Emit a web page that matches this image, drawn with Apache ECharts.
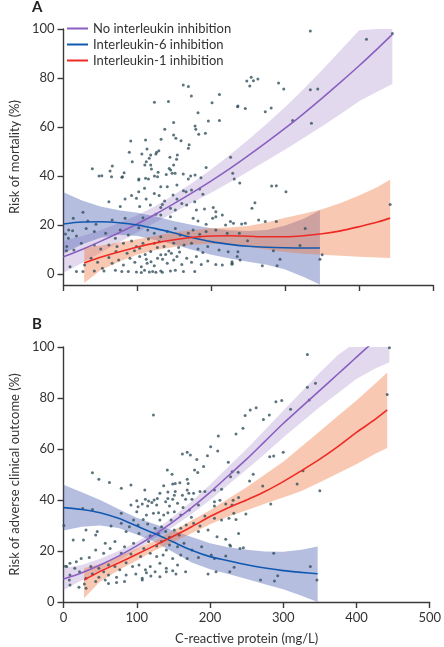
<!DOCTYPE html>
<html><head><meta charset="utf-8">
<script src="https://cdn.jsdelivr.net/npm/echarts@6/dist/echarts.min.js"></script>
<style>html,body{margin:0;padding:0;background:#fff}#c{width:444px;height:647px}</style>
</head><body><div id="c"></div>
<script>
// ---------- tick labels ----------
const xTicks = [0, 100, 200, 300, 400, 500];
const yTicks = [0, 20, 40, 60, 80, 100];
const seriesNames = ['No interleukin inhibition', 'Interleukin-6 inhibition', 'Interleukin-1 inhibition'];

// ---------- Panel A: mortality ----------
const A_none_x   = [0,25,50,75,100,125,150,175,200,225,250,275,300,325,350,375,400,425,445];
const A_none_fit = [7,10,13.3,16.8,20.5,24.5,28.8,33.3,38,43,48.3,53.8,59.5,65.5,71.8,78.3,85,92,97.8];
const A_none_lo  = [0.5,4.5,8.7,12.8,17,21.1,25.2,29.3,33.2,37.4,41.8,46.3,50.8,55.5,60.3,65.3,70.5,74.5,77.5];
const A_none_hi  = [13.5,15.5,17.9,20.8,24,27.9,32.4,37.3,42.8,48.6,54.8,61.3,68.2,75.5,83.3,91.3,99.5,100,100];

const A_il6_x   = [0,25,50,75,100,125,150,175,200,225,250,275,300,325,347];
const A_il6_fit = [20.4,21.2,21.3,20.9,20,18.5,16.7,14.8,13.2,12.1,11.3,10.9,10.7,10.6,10.6];
const A_il6_lo  = [8.5,12,14.8,16,15.5,13.8,12,9.8,7.8,6.3,5,3.8,1.8,-1.2,-4.3];
const A_il6_hi  = [33.4,30,27.5,26,25,23.5,21.5,20,18.7,17.8,17.5,18,19.8,22.5,26];

const A_il1_x   = [28,50,75,100,125,150,175,200,225,250,275,300,325,350,375,400,425,442];
const A_il1_fit = [4.5,6.8,9,11,12.7,14,15,15.5,15.6,15.4,15.2,15.2,15.6,16.4,17.6,19.3,21.2,22.8];
const A_il1_lo  = [-3.7,1.5,5,7.9,9.8,11,12,12.3,12,11.2,10,9,8.3,7.8,7.4,7,6.7,6.5];
const A_il1_hi  = [11,11.5,12.8,14.2,15.6,17,18,18.7,19,19.6,21,23,24.6,26.4,29,32,35.5,38.6];

const A_points = [
[162,77.1],[169,76.5],[173,72.7],[211,73.3],[201,69.9],[123,70.1],[142,70.4],[236,68.6],[182,65.8],[149,61.8],
[196,62.4],[211,62.6],[178,60.4],[137,59.1],[179,59.1],[183,57],[192,57.4],[149,56.7],[152,55.4],[132,55],
[159,54.4],[91,54.3],[111,54.7],[170,52.7],[169,51.3],[113,51],[129,50.3],[126,49.7],[89,49.7],[106,49],
[118,48.6],[125,49],[116,47.2],[144,47.6],[154,48.6],[153,46.8],[93,45.8],[112,45.8],[110,44.5],[118,44.5],
[149,44.5],[66,44.1],[39,43],[63,42],[119,42.9],[143,43.1],[145,42.4],[128,41.5],[82,41.3],[48,40],
[65,39.7],[79,39.5],[111,39.1],[147,41.1],[151,41.1],[162,40.8],[172,40],[178,40.4],[193,43.5],[123,40],
[139,40.6],[102,38.8],[186,39.3],[226,47.6],[229,41.1],
[334,99.2],[410,95.8],[445,98.2],[248,78.8],[254,80.3],[257,78.9],[263,79.6],[252,76.7],[291,78],[298,75.5],
[235.5,68.3],[246,67.5],[273,66.2],[281,67.8],[334,75.2],[344,75.5],[310,62.6],[335.5,61.5],
[231,38.8],[238.5,37.1],[281.6,35.9],[288,36],[301,33.6],[259,29.1],[255,26.8],[264,22],[273,21.4],[288,21.4],
[230,20.7],[241,20.4],[246,20.7],[327,18.6],[238,16.6],[249,13.6],[320,11.6],[284,9.5],[236,9.1],[235,7.1],
[239,5.7],[228,5],[228,4],[293,6],[269,3.4],[289,3.4],[347,6],[350,7.8],[442,28.4],
[51.8,40.1],[79.8,39.7],[101.8,38.4],[114.9,38.8],[127.2,39.7],[168.9,38.8],[131.6,35.6],[109.6,35],[92.1,32],
[101.8,33.6],[122.8,32.9],[129.4,32],[140.4,35.6],[153.5,36.3],[162.3,34],[165.8,33.6],[173.2,34.3],[184.2,34.7],
[83.3,30.6],[98.7,30.9],[111.8,30.6],[117.5,28.2],[133.8,28.4],[136.8,29.8],[148.2,32.2],[153.5,30.6],[160.1,28.8],
[177.6,29.5],[188.6,32.5],[61.4,29.5],[76.8,27.5],[103.1,27.5],[131.6,27.1],[144.7,26.8],[151.3,26.1],[166.7,28.2],
[179.8,26.1],[190.8,26.5],[202.6,27.1],[206.1,25.4],[214.9,24.1],[206.1,23.4],[201.8,22.7],[225.9,21.4],
[26.3,25.2],[13.2,22.7],[32.9,21.6],[43.9,20.3],[65.8,22],[83.3,22.7],[107.5,23],[125,24.4],[131.6,24.1],
[144.7,23.4],[175.4,22.7],[182,21.6],[193,20.3],[219.3,20],[12.3,17.6],[17.5,15.5],[6.6,14.6],[30.7,18.6],
[41.7,17.3],[57,16.6],[70.2,14.6],[76.8,18],[87.7,15.9],[101.8,18.9],[114,18],[122.8,16.6],[131.6,15.2],
[140.4,17.3],[151.3,18.6],[157.9,15.9],[168.9,16.6],[175.4,18],[184.2,16.2],[193,17.3],[206.1,18],[221.5,16.6],
[4.4,11.2],[14,9.8],[24.1,12.5],[41.7,11.8],[50.4,10.2],[61.4,11.8],[72.4,11.2],[81.1,12.5],[92.1,13.5],
[98.7,11.2],[107.5,12.5],[114.9,14.3],[122.8,12.5],[129.4,13.2],[136,11.2],[142.5,9.4],[149.1,12.5],[155.7,10.8],
[163.2,11.8],[173.2,12.5],[182,10.2],[188.6,8.8],[195.2,11.2],[210.5,9.8],[222.8,9.1],
[8.8,3],[17.5,1],[28.5,3.7],[37.3,6.4],[46.1,4.8],[52.6,2.3],[61.4,6.7],[65.8,4.4],[74.6,5.7],[81.1,3.7],
[89.9,6.4],[96.5,4.8],[103.1,7.1],[105.3,3],[110.5,8],[113.2,4.4],[118.4,5],[122.8,3.4],[127.2,6.4],[131.6,7.8],
[138.2,8],[140.4,4.4],[149.1,5.7],[153.5,7.1],[160.1,3.9],[166.7,6.4],[173.2,4.8],[179.8,7.1],[186.4,3.9],
[195.2,5.3],[206.1,3.9],[214.9,3.7],[228.1,4.4],[54.8,1.2],[70.2,1.5],[87.7,1],[98.7,0.8],[109.6,1.5],[116.2,0.8],
[120.6,1],[131.6,1.2],[133.8,0.7],[144.7,1.2],[151.3,1.5],[162.3,1],[177.6,1],[105.3,0.6],[125,0.7],[78.9,1],
[26.3,1],[41.7,1.2],[2.6,16.3],[7,18],[4,9.5],
[96,9.5],[103,10.5],[118,9.2],[127,10.8],[134,6],[146,8.5],[157,9],[112,6],[86,8.5],[71,9.2]
];

// ---------- Panel B: adverse clinical outcome ----------
const B_none_x   = [0,25,50,75,100,125,150,175,200,225,250,275,300,325,350,375,390,400,425,445];
const B_none_fit = [9,11.5,14.5,18,22,26.5,31.5,37,43,49.5,56,63,70,76.5,83,89.5,93.4,96,102.5,107.7];
const B_none_lo  = [4.7,8.5,12,16,20.5,25,29.5,34.5,40,46,52,58,64.5,70.5,76.5,82,85.3,87.5,91.5,94];
const B_none_hi  = [13.3,14.5,17,20,23.5,28,33.5,39.5,46,53,60,67.5,75,82.5,90,97,100,100,100,100];

const B_il6_x   = [0,25,50,75,100,125,150,175,200,225,250,275,300,325,347];
const B_il6_fit = [37,36.3,35,32.8,29.8,26.8,23.5,20.3,17.8,16.2,14.6,13.3,12.3,11.6,11.1];
const B_il6_lo  = [28,29.5,30,29,26.5,23.5,19.5,15.5,12.8,11,9,7,5,2.5,0];
const B_il6_hi  = [46,43,40,36.5,33,30.5,28,25.5,23,21.5,20.5,19.8,19.7,20.5,21.8];

const B_il1_x   = [28,50,75,100,125,150,175,200,225,250,275,300,325,350,375,400,425,442];
const B_il1_fit = [8.6,12,15.3,18.7,22.2,25.8,29.5,33.5,37,40,43.3,47.2,51.5,56,61,66.5,71.5,75.3];
const B_il1_lo  = [1.5,8,12.5,16.3,20.3,23.5,27,30.5,33.5,36,38.5,41,43.5,47,50.5,54,58,60.4];
const B_il1_hi  = [13.3,14.8,17.8,21,24,28,32,36,40.5,45,50,55,61,67,73,79,85.5,90];

const B_points = [
[122.8,73.3],[211.4,65.1],[235.5,65.9],[200.9,60.9],[210.5,59.2],[162.3,58],[168.9,58.7],[173.2,57.6],[182,55.9],
[196.5,57.4],[191.2,53.1],[225,54.8],[141.7,51.8],[178.9,51.8],[183.3,50.8],[148.2,50.1],[39.5,50.7],[48.2,48.1],
[62.7,46.9],[78.9,44.6],[92.1,45.9],[111,43.9],[136.8,45.6],[149.1,46.3],[152.6,46.5],[158.8,46.8],[168.9,48.1],
[170.2,46.5],[131.6,42.6],[142.5,43.1],[152.6,43.3],[151.3,41.9],[168.9,43.9],[171.1,42.6],[177.6,42.6],[186.4,43.3],
[193,43.3],[206.1,43.9],[215.8,44.2],[100,39.7],[111.8,40.3],[116.2,39.6],[123.7,40],[128.1,40.6],[142.5,40.6],
[149.1,40.3],[162.3,41.9],[166.7,40.3],[175.4,40.3],[230.3,51.1],[228.1,49.1],[206.1,39.3],[213.6,39.9],[231.6,39.9],
[333,97.1],[445,99.7],[333,84.2],[344,85.8],[335.5,79.2],[442,81.4],[248,73.1],[255,75.3],[263,76.2],[290,78.5],
[298,79],[310,75.6],[273,71.6],[281,73.3],[245,68.1],[281.6,57],[287,57.3],[300,58.7],[238.5,50.9],[259,50.1],
[254,47.5],[327,51.5],[319,46.3],[272,45.5],
[350,43.6],[239,41],[230,38],[283,38.4],[249,34.5],[235.5,32.4],[239,26.9],[227,22.4],[241,21],[245.6,21.3],
[287,19.1],[233,13.6],[227,11.9],[337,13.9],[292.5,10.3],[269,8.6],[288,8.2],[346,8.6],
[92.1,38],[101.8,37.4],[107.5,38.4],[114.9,37.6],[120.6,39],[127.2,38],[139.5,39.3],[144.7,37.6],[155.7,38.7],
[163.2,37.1],[78.9,34.8],[100,35.4],[113.2,34.1],[122.8,34.8],[129.8,35],[136.8,34.1],[142.5,35],[151.3,35.4],
[160.1,34.1],[171.9,36.1],[184.2,38],[206.1,37.6],[221.5,38.4],[225.9,32.8],[206.1,32.8],[215.8,32.2],[232.5,34.8],
[39.5,36.3],[26.3,36.7],[95.6,32.2],[108.8,32.4],[131.6,32.2],[146.9,32.2],[174.6,33.2],[193,33.7],
[64.9,29.8],[78.9,30.9],[89.9,29.5],[101.8,30.2],[114.9,30.6],[125,28.9],[133.8,29.5],[139.5,27.6],[151.3,28.2],
[160.1,28.9],[167.5,30.2],[177.6,30.9],[186.4,29.8],[197.4,28.2],[209.6,25.6],[221.5,24.6],[46.1,27.6],[30.7,28.2],
[13.2,24.3],[43.9,26.3],[85.5,27.6],[103.1,26.9],[118.4,25.9],[129.4,26.9],[144.7,25.4],[157.9,26.3],[184.2,27.6],
[27.2,24.3],[57,23],[70.2,23.7],[83.3,21.7],[95.6,23],[109.6,21],[116.2,23.7],[127.2,22],[133.8,23.7],[140.4,20.4],
[144.7,22.4],[155.7,21.7],[164.5,23],[175.4,20.4],[188.6,21.7],[201.8,18.4],[228.1,22],[43.9,20.4],[54.8,19.1],
[63.6,21],[78.9,19.1],[92.1,18.8],[105.3,17.8],[118.4,19.1],[127.2,17.8],[136,18.4],[149.1,17.1],[160.1,18.4],
[168.9,17.1],[184.2,17.5],[206.1,17.1],[221.5,18],[8.8,15.2],[17.5,15.8],[24.1,17.1],[35.1,17.5],
[4.4,13.9],[15.4,13.2],[21.9,11.9],[37.3,13.9],[48.2,13.2],[54.8,11.9],[61.4,14.5],[70.2,13.9],[76.8,12.6],
[85.5,15.4],[94.3,13.9],[103.1,14.5],[111.8,12.6],[118.4,13.9],[125,11.9],[131.6,15.2],[140.4,13.2],[149.1,12.3],
[155.7,14.5],[166.7,11.9],[61.4,10.6],[72.4,9.7],[85.5,10.6],[98.7,11],[107.5,9.3],[113.2,11.5],[119.3,10.2],
[131.6,9.9],[140.4,11.9],[153.5,11],[197.4,11],[208.3,11.9],[8.8,10.6],[30.7,9.3],[39.5,11],[48.2,9.7],[57,8.6],
[8.8,6.7],[21.1,5.8],[28.5,7.1],[43.9,8],[61.4,7.3],[72.4,7.6],[83.3,8],[107.5,8.6],[30.7,5.4],
[0.5,30],[2.6,14],[8,8.6]
];

// ---------- colours ----------
const lineColors = ['#8a5fc0', '#1159b0', '#ee2a25'];
const bandColors = ['rgba(160,130,200,0.30)', 'rgba(72,92,178,0.40)', 'rgba(240,118,62,0.40)'];
const dotColor = '#33515c';
const axisColor = '#3a3a3a';
const textColor = '#333';
const FONT = 'Lato';

function zip(xs, ys) { return xs.map((x, i) => [x, ys[i]]); }

function bandSeries(id, xs, lo, hi, color, gi) {
  return {
    type: 'custom', id: id, name: id, xAxisIndex: gi, yAxisIndex: gi, z: 1, silent: true, clip: true,
    data: [[xs[0], lo[0]]],
    renderItem: function (params, api) {
      if (params.dataIndex !== 0) return;
      const pts = [];
      for (let i = 0; i < xs.length; i++) pts.push(api.coord([xs[i], hi[i]]));
      for (let i = xs.length - 1; i >= 0; i--) pts.push(api.coord([xs[i], lo[i]]));
      return { type: 'polygon', shape: { points: pts }, style: { fill: color } };
    }
  };
}
function lineSeries(name, xs, ys, color, gi) {
  return {
    type: 'line', name: name, xAxisIndex: gi, yAxisIndex: gi, z: 4, data: zip(xs, ys),
    showSymbol: false, smooth: 0.3, clip: true, silent: true,
    lineStyle: { width: 1.6, color: color }, itemStyle: { color: color }
  };
}
function dots(points, gi) {
  return { type: 'scatter', xAxisIndex: gi, yAxisIndex: gi, z: 3, data: points, symbolSize: 3,
    itemStyle: { color: dotColor }, silent: true };
}

const panels = [
  { none: [A_none_x, A_none_fit, A_none_lo, A_none_hi], il6: [A_il6_x, A_il6_fit, A_il6_lo, A_il6_hi], il1: [A_il1_x, A_il1_fit, A_il1_lo, A_il1_hi], pts: A_points },
  { none: [B_none_x, B_none_fit, B_none_lo, B_none_hi], il6: [B_il6_x, B_il6_fit, B_il6_lo, B_il6_hi], il1: [B_il1_x, B_il1_fit, B_il1_lo, B_il1_hi], pts: B_points }
];

const series = [];
panels.forEach((p, gi) => {
  const sets = [p.none, p.il6, p.il1];
  sets.forEach((s, k) => series.push(bandSeries('band' + gi + k, s[0], s[2], s[3], bandColors[k], gi)));
  series.push(dots(p.pts, gi));
  sets.forEach((s, k) => series.push(lineSeries(seriesNames[k], s[0], s[1], lineColors[k], gi)));
});

const axisLine = { show: true, onZero: false, lineStyle: { color: axisColor, width: 1.4 } };
const axisTick = { show: true, inside: false, length: 6, lineStyle: { color: axisColor, width: 1.4 } };
const labelStyle = { color: textColor, fontSize: 13, fontFamily: FONT };

const option = {
  animation: false,
  backgroundColor: '#fff',
  title: [
    { text: 'A', left: 32, top: 0, padding: 0, textStyle: { fontSize: 15, fontWeight: 'bold', color: '#222', fontFamily: FONT } },
    { text: 'B', left: 32, top: 317, padding: 0, textStyle: { fontSize: 15, fontWeight: 'bold', color: '#222', fontFamily: FONT } }
  ],
  legend: {
    data: seriesNames, orient: 'vertical', left: 67, top: 22, padding: 0,
    icon: 'rect', itemWidth: 21, itemHeight: 2, itemGap: 3,
    textStyle: { color: textColor, fontSize: 13, fontFamily: FONT }, selectedMode: false
  },
  grid: [
    { left: 53, top: 29, width: 380, height: 256 },
    { left: 53, top: 347, width: 380, height: 255 }
  ],
  xAxis: [
    { type: 'value', gridIndex: 0, min: xTicks[0], max: xTicks[xTicks.length - 1], interval: 100,
      axisLine: axisLine, axisTick: axisTick, axisLabel: { show: false }, splitLine: { show: false } },
    { type: 'value', gridIndex: 1, min: xTicks[0], max: xTicks[xTicks.length - 1], interval: 100,
      axisLine: axisLine, axisTick: axisTick, axisLabel: Object.assign({ margin: 9 }, labelStyle), splitLine: { show: false },
      name: 'C-reactive protein (mg/L)', nameLocation: 'middle', nameGap: 30, nameTextStyle: labelStyle }
  ],
  yAxis: [
    { type: 'value', gridIndex: 0, min: -4.5, max: 100,
      axisLine: axisLine,
      axisTick: Object.assign({ customValues: yTicks }, axisTick),
      axisLabel: Object.assign({ margin: 9, customValues: yTicks }, labelStyle),
      splitLine: { show: false },
      name: 'Risk of mortality (%)', nameLocation: 'middle', nameGap: 39, nameTextStyle: labelStyle },
    { type: 'value', gridIndex: 1, min: 0, max: 100, interval: 20,
      axisLine: axisLine, axisTick: axisTick,
      axisLabel: Object.assign({ margin: 9 }, labelStyle),
      splitLine: { show: false },
      name: 'Risk of adverse clinical outcome (%)', nameLocation: 'middle', nameGap: 39, nameTextStyle: labelStyle }
  ],
  series: series
};

const chart = echarts.init(document.getElementById('c'), null, { renderer: 'canvas' });
chart.setOption(option);
</script></body></html>
